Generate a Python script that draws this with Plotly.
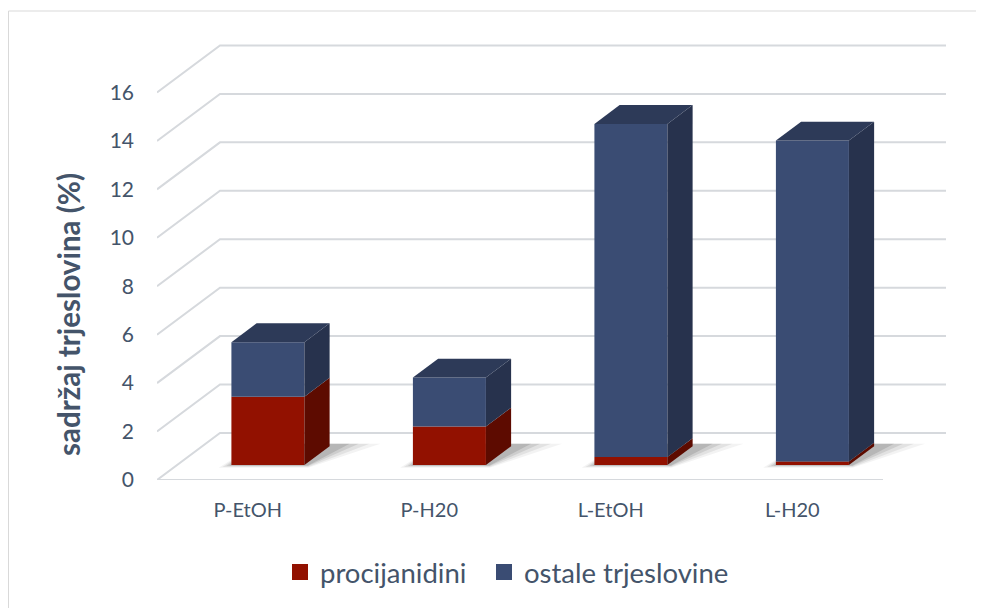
import plotly.graph_objects as go

categories = ["P-EtOH", "P-H20", "L-EtOH", "L-H20"]
procijanidini = [2.82, 1.59, 0.33, 0.14]
ostale = [2.25, 2.02, 13.75, 13.25]
y_ticks = [0, 2, 4, 6, 8, 10, 12, 14, 16]
series_names = ["procijanidini", "ostale trjeslovine"]
y_title = "sadržaj trjeslovina (%)"

# ---- geometry (oblique 3D look); page has an 8px body margin ----
W, H = 976, 600
L, R, T, B = 149, 38, 36, 128
PW, PH = W - L - R, H - T - B
PX = 181.5                     # px per category unit
YMAX = 18
PY = PH / YMAX                 # px per value unit
DX = 63 / PX                   # full depth shift in x units
DY = 47 / PY                   # full depth shift in y units
d0, d1 = 0.32, 0.72            # bar depth (front/back)
bw = 73 / PX

front = dict(red="#921100", blue="#3a4c73")
side = dict(red="#5d0b00", blue="#27324d")
top = dict(red="#6e0d00", blue="#2d3a58")
grid_col = "#d6d9dd"
txt = "#44546a"
FONT = "Lato"

fig = go.Figure()
shapes = []

# back wall gridlines + left wall diagonals (drawn beneath the bars)
for v in y_ticks:
    shapes.append(dict(
        type="path", xref="x", yref="y", layer="below",
        path=f"M{-0.5},{v} L{-0.5 + DX},{v + DY} L{3.5 + DX},{v + DY}",
        line=dict(color=grid_col, width=2)))
# floor front edge
shapes.append(dict(type="line", xref="x", yref="y", layer="below",
                   x0=-0.5, y0=0, x1=3.5, y1=0,
                   line=dict(color=grid_col, width=2)))

xs = list(range(len(categories)))
base0 = d0 * DY
xoff = d0 * DX
ddx = (d1 - d0) * DX
ddy = (d1 - d0) * DY

# soft floor shadows
for i in xs:
    xl = i + xoff - bw / 2
    xr = i + xoff + bw / 2
    for k, op in [(1.0, 0.07), (0.7, 0.10), (0.4, 0.14), (0.15, 0.18)]:
        pts = [(xl - 0.07 * k, base0 - 0.12 * k), (xr + 0.02, base0 - 0.12 * k),
               (xr + ddx + 0.08 + 0.2 * k, base0 + ddy + 0.1),
               (xl + ddx, base0 + ddy + 0.1)]
        path = "M" + " L".join(f"{px},{py}" for px, py in pts) + " Z"
        shapes.append(dict(type="path", xref="x", yref="y", layer="below",
                           path=path, fillcolor=f"rgba(80,80,80,{op})",
                           line=dict(width=0)))

bases_red = [base0] * len(xs)
bases_blue = [base0 + p for p in procijanidini]

for vals, bases, key in [(procijanidini, bases_red, "red"), (ostale, bases_blue, "blue")]:
    # front faces
    fig.add_trace(go.Bar(
        x=[i + xoff for i in xs], y=vals, base=bases, width=bw,
        marker=dict(color=front[key], line=dict(width=0)),
        showlegend=False, hoverinfo="skip"))
    # side faces
    for i, v, b in zip(xs, vals, bases):
        xr = i + xoff + bw / 2
        fig.add_trace(go.Scatter(
            x=[xr, xr, xr + ddx, xr + ddx, xr],
            y=[b, b + v, b + v + ddy, b + ddy, b],
            fill="toself", fillcolor=side[key], line=dict(width=0),
            mode="lines", hoverinfo="skip", showlegend=False))

# top faces of stacks
for i, p, o in zip(xs, procijanidini, ostale):
    xl = i + xoff - bw / 2
    xr = i + xoff + bw / 2
    t = base0 + p + o
    fig.add_trace(go.Scatter(
        x=[xl, xr, xr + ddx, xl + ddx, xl],
        y=[t, t, t + ddy, t + ddy, t],
        fill="toself", fillcolor=top["blue"], line=dict(width=0),
        mode="lines", hoverinfo="skip", showlegend=False))

# legend entries (two legends for exact placement)
for name, key, lg in zip(series_names, ["red", "blue"], ["legend", "legend2"]):
    fig.add_trace(go.Scatter(
        x=[None], y=[None], mode="markers", name=name, legend=lg,
        marker=dict(symbol="square", size=16, color=front[key])))

# chart border
shapes.append(dict(type="rect", xref="paper", yref="paper",
                   x0=(0.5 - L) / PW, x1=1.2,
                   y0=-1.0, y1=(H - B - 3) / PH,
                   line=dict(color="#d9d9d9", width=1), fillcolor="rgba(0,0,0,0)",
                   layer="below"))

leg_common = dict(orientation="h", xref="container", yref="container",
                  y=1 - 564 / H, xanchor="left", yanchor="middle",
                  font=dict(size=27.5, color=txt, family=FONT),
                  itemsizing="trace", bgcolor="rgba(0,0,0,0)")

fig.update_layout(
    width=W, height=H, autosize=False,
    margin=dict(l=L, r=R, t=T, b=B),
    paper_bgcolor="white", plot_bgcolor="white",
    barmode="overlay",
    font=dict(family=FONT, color=txt),
    showlegend=True,
    legend=dict(x=272 / W, **leg_common),
    legend2=dict(x=476 / W, **leg_common),
    xaxis=dict(range=[-0.5, -0.5 + PW / PX], tickvals=xs, ticktext=categories,
               showgrid=False, zeroline=False, showline=False, ticks="",
               ticklabelstandoff=16, tickfont=dict(size=20, color=txt)),
    yaxis=dict(range=[0, YMAX], tickvals=y_ticks, showgrid=False, zeroline=False,
               showline=False, ticks="", ticklabelstandoff=22,
               tickfont=dict(size=21, color=txt)),
    annotations=[dict(text=f"<b>{y_title}</b>", textangle=-90,
                      xref="paper", yref="paper",
                      x=(60 - L) / PW, y=(H - B - 307) / PH,
                      xanchor="center", yanchor="middle", showarrow=False,
                      font=dict(size=29.5, color=txt, family=FONT))],
    shapes=shapes,
)

fig.write_html("out.html")
